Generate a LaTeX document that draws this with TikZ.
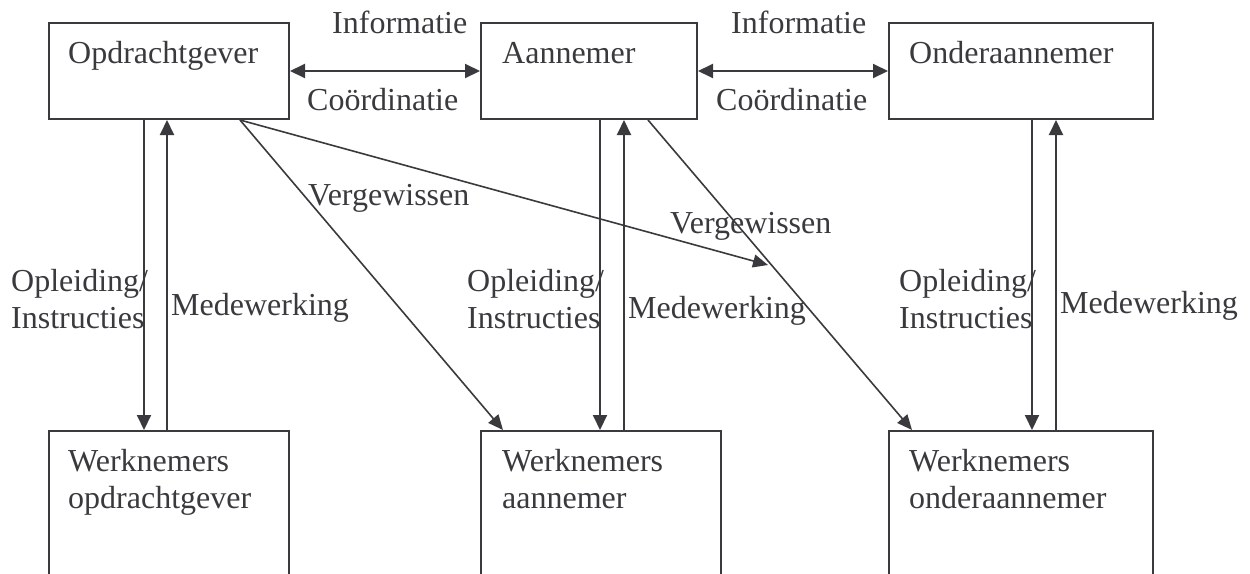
\documentclass[tikz,border=0pt]{standalone}
\usepackage{fontspec}
\setmainfont{Liberation Serif}
\usetikzlibrary{arrows.meta,calc}
\definecolor{ink}{RGB}{58,58,62}
\begin{document}
\begin{tikzpicture}[x=1pt,y=-1pt,
  box/.style={draw=ink,line width=2pt,inner sep=0pt,anchor=north west},
  txt/.style={anchor=base west,inner sep=0pt,text=ink,font=\fontsize{32}{37}\selectfont},
  arr/.style={draw=ink,line width=2pt,-{Triangle[length=15pt,width=14pt]}},
  darr/.style={draw=ink,line width=2pt,{Triangle[length=15pt,width=14pt]}-{Triangle[length=15pt,width=14pt]}},
  diag/.style={draw=ink,line width=1.6pt,-{Triangle[length=15pt,width=13pt]}}]
\useasboundingbox (0,0) rectangle (1250,573);
\clip (0,0) rectangle (1250,573);
% boxes
\node[box,minimum width=240pt,minimum height=96pt] (op) at (48,22) {};
\node[box,minimum width=216pt,minimum height=96pt] (aan) at (480,22) {};
\node[box,minimum width=264pt,minimum height=96pt] (onder) at (888,22) {};
\node[box,minimum width=240pt,minimum height=200pt] (wop) at (48,430) {};
\node[box,minimum width=240pt,minimum height=200pt] (waan) at (480,430) {};
\node[box,minimum width=264pt,minimum height=200pt] (wond) at (888,430) {};
% box texts
\node[txt] (top) at (68,63) {Opdrachtgever};
\node[txt] (taan) at (502,63) {Aannemer};
\node[txt] (tonder) at (909,63) {Onderaannemer};
\node[txt] (twopa) at (68,471) {Werknemers};
\node[txt] (twopb) at (68,508) {opdrachtgever};
\node[txt] (twaana) at (502,471) {Werknemers};
\node[txt] (twaanb) at (502,508) {aannemer};
\node[txt] (twonda) at (909,471) {Werknemers};
\node[txt] (twondb) at (909,508) {onderaannemer};
% horizontal arrows
\draw[darr] (op.east) -- (aan.west);
\draw[darr] (aan.east) -- (onder.west);
\node[txt] (inf1) at (332,33) {Informatie};
\node[txt] (co1) at (307,110) {Coördinatie};
\node[txt] (inf2) at (731,33) {Informatie};
\node[txt] (co2) at (716,110) {Coördinatie};
% vertical arrows
\draw[arr] ([xshift=96pt]op.south west) -- ([xshift=96pt]wop.north west);
\draw[arr] ([xshift=119pt]wop.north west) -- ([xshift=119pt]op.south west);
\draw[arr] ([xshift=120pt]aan.south west) -- ([xshift=120pt]waan.north west);
\draw[arr] ([xshift=144pt]waan.north west) -- ([xshift=144pt]aan.south west);
\draw[arr] ([xshift=144pt]onder.south west) -- ([xshift=144pt]wond.north west);
\draw[arr] ([xshift=168pt]wond.north west) -- ([xshift=168pt]onder.south west);
\node[txt] (opl1a) at (11,291) {Opleiding/};
\node[txt] (opl1b) at (11,328) {Instructies};
\node[txt] (med1) at (171,315) {Medewerking};
\node[txt] (opl2a) at (467,291) {Opleiding/};
\node[txt] (opl2b) at (467,328) {Instructies};
\node[txt] (med2) at (628,318) {Medewerking};
\node[txt] (opl3a) at (899,291) {Opleiding/};
\node[txt] (opl3b) at (899,328) {Instructies};
\node[txt] (med3) at (1060,313) {Medewerking};
% diagonal arrows
\coordinate (vend) at (768,265);
\draw[diag] ([xshift=192pt]op.south west) -- ([xshift=23pt]waan.north west);
\draw[diag] ([xshift=192pt]op.south west) -- (vend);
\draw[diag] ([xshift=168pt]aan.south west) -- ([xshift=24pt]wond.north west);
\node[txt] (verg1) at (308,205) {Vergewissen};
\node[txt] (verg2) at (670,233) {Vergewissen};
\end{tikzpicture}
\end{document}
